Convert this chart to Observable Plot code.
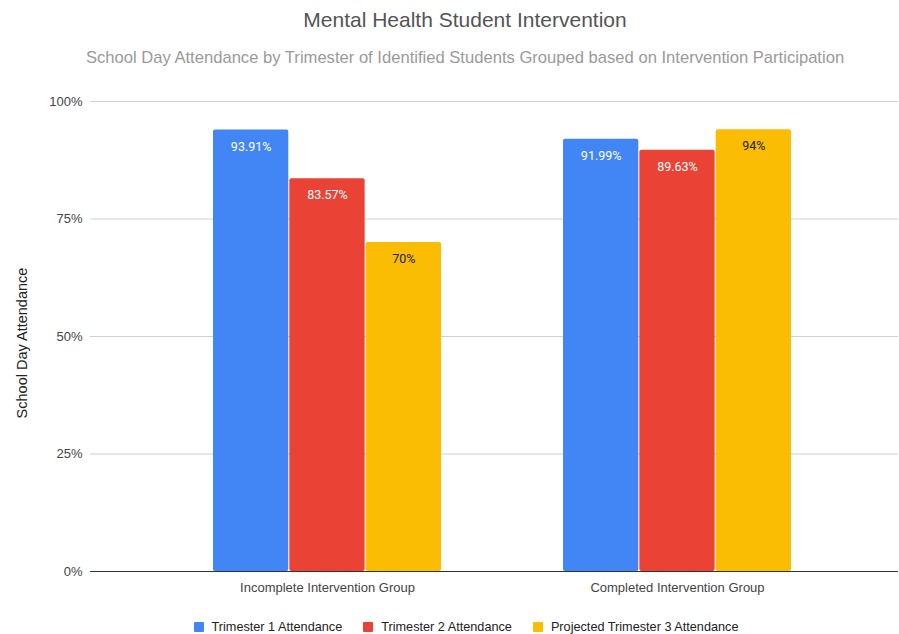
<!DOCTYPE html>
<html>
<head>
<meta charset="utf-8">
<script src="https://cdn.jsdelivr.net/npm/d3@7"></script>
<script src="https://cdn.jsdelivr.net/npm/@observablehq/plot@0.6"></script>
<style>
  body { margin: 0; background: #fff; font-family: "Liberation Sans", Arial, sans-serif; }
  #wrap { position: relative; width: 899px; height: 634px; overflow: hidden; }
  #title { position: absolute; top: 8px; left: 0; width: 930px; text-align: center; font-size: 21px; color: #555; }
  #subtitle { position: absolute; top: 48px; left: 0; width: 930px; text-align: center; font-size: 16.6px; color: #9a9a9a; }
  #chart { position: absolute; top: 80px; left: 0; }
  #ylabel { position: absolute; left: 22px; top: 343px; transform: translate(-50%, -50%) rotate(-90deg); white-space: nowrap; font-size: 14.5px; color: #222; }
  #legend { position: absolute; top: 620px; left: 0; width: 932px; display: flex; justify-content: center; gap: 21px; font-size: 12.7px; color: #222; }
  .item { display: flex; align-items: center; gap: 8px; }
  .sw { width: 10px; height: 10px; border-radius: 1px; }
</style>
</head>
<body>
<div id="wrap">
  <div id="title"></div>
  <div id="subtitle"></div>
  <div id="chart"></div>
  <div id="ylabel"></div>
  <div id="legend"></div>
</div>
<script>
const title = "Mental Health Student Intervention";
const subtitle = "School Day Attendance by Trimester of Identified Students Grouped based on Intervention Participation";
const yLabel = "School Day Attendance";
const groups = ["Incomplete Intervention Group", "Completed Intervention Group"];
const series = ["Trimester 1 Attendance", "Trimester 2 Attendance", "Projected Trimester 3 Attendance"];
const trimester1 = [93.91, 91.99];
const trimester2 = [83.57, 89.63];
const trimester3 = [70, 94];
const yTicks = [0, 25, 50, 75, 100];
const colors = ["#4285F4", "#EA4335", "#FBBC04"];
const labelColors = ["#ffffff", "#ffffff", "#222222"];

const values = [trimester1, trimester2, trimester3];
const rows = series.map((s, i) => groups.map((g, j) => ({group: g, series: s, i, value: values[i][j]})));

document.getElementById("title").textContent = title;
document.getElementById("subtitle").textContent = subtitle;
document.getElementById("ylabel").textContent = yLabel;

const band = 227.7, barW = 75, gap = 1.35;
const marks = [
  Plot.ruleY(yTicks.filter(t => t > 0), {y: d => d, stroke: "#d0d0d0", strokeWidth: 1})
];
rows.forEach((data, i) => {
  const left = i * (barW + gap);
  marks.push(Plot.barY(data, {
    x: "group", y: "value", fill: colors[i],
    insetLeft: left, insetRight: band - left - barW, rx: 2
  }));
});
marks.push(Plot.ruleY([0], {stroke: "#333", strokeWidth: 1}));
rows.forEach((data, i) => {
  const left = i * (barW + gap);
  marks.push(Plot.text(data, {
    x: "group", y: "value", text: d => d.value + "%",
    dx: left + barW / 2 - band / 2, dy: 16.5,
    fill: labelColors[i], fontSize: 12.5, fontFamily: "Roboto, sans-serif"
  }));
});

const chart = Plot.plot({
  width: 899,
  height: 520,
  marginTop: 21,
  marginBottom: 29,
  marginLeft: 90,
  marginRight: 1,
  style: {fontFamily: "'Liberation Sans', Arial, sans-serif", fontSize: "13px", color: "#444", background: "transparent"},
  x: {domain: groups, range: [90, 913], padding: 0.35, tickSize: 0, tickPadding: 11, label: null},
  y: {domain: [0, 100], ticks: yTicks, tickFormat: d => d + "%", tickSize: 0, tickPadding: 8, label: null},
  marks
});
document.getElementById("chart").appendChild(chart);

const legend = document.getElementById("legend");
series.forEach((s, i) => {
  const it = document.createElement("div");
  it.className = "item";
  const sw = document.createElement("div");
  sw.className = "sw";
  sw.style.background = colors[i];
  const tx = document.createElement("span");
  tx.textContent = s;
  it.appendChild(sw); it.appendChild(tx);
  legend.appendChild(it);
});
</script>
</body>
</html>
